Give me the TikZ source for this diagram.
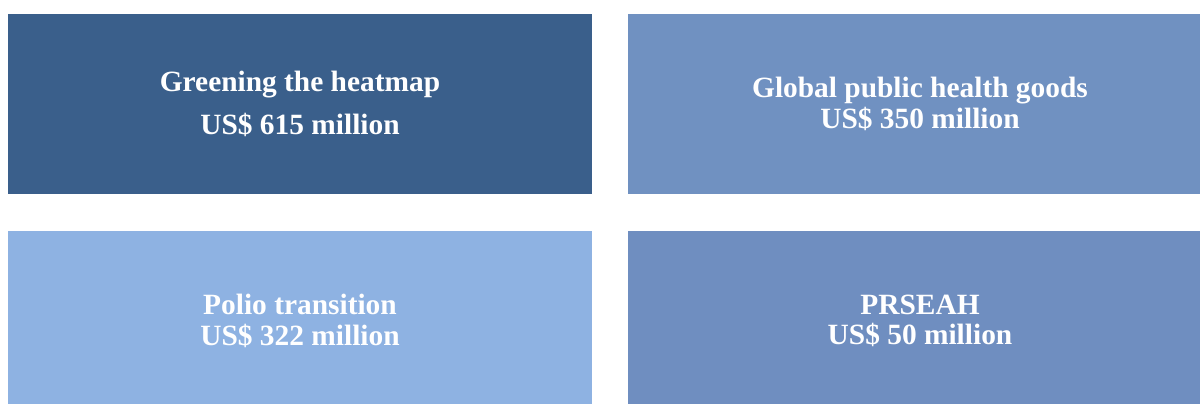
\documentclass[tikz,border=0pt]{standalone}
\usepackage{fontspec}
\setmainfont{Liberation Serif}
\usetikzlibrary{positioning}

\definecolor{greenblue}{RGB}{58,95,139}
\definecolor{goodsblue}{RGB}{112,145,193}
\definecolor{polioblue}{RGB}{142,178,226}
\definecolor{prseahblue}{RGB}{111,142,192}

\tikzset{
    fundbox/.style={rectangle, minimum width=584pt, minimum height=180pt,
        inner sep=0pt, outer sep=0pt, align=center, text=white,
        font=\fontsize{29.4pt}{30.5pt}\selectfont\bfseries}
}

\begin{document}
\begin{tikzpicture}
            \useasboundingbox (0,0) rectangle (1200pt,-404pt);
            \clip (0,0) rectangle (1200pt,-404pt);
                % top row
                \node[fundbox, fill=greenblue, anchor=north west] (green) at (8pt,-14pt)
                    {Greening the heatmap\\[12pt]US\$ 615 million};
                \node[fundbox, fill=goodsblue, right=36pt of green] (goods)
                    {Global public health goods\\US\$ 350 million};
                % bottom row
                \node[fundbox, fill=polioblue, below=37pt of green] (polio)
                    {Polio transition\\US\$ 322 million};
                \node[fundbox, fill=prseahblue, below=37pt of goods] (prseah)
                    {PRSEAH\\US\$ 50 million};
            \end{tikzpicture}
\end{document}
